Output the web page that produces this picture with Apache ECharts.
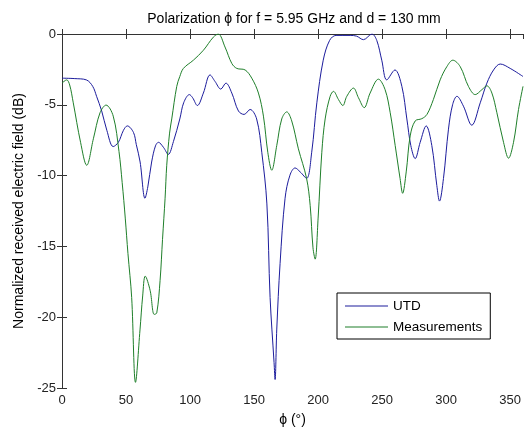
<!DOCTYPE html>
<html>
<head>
<meta charset="utf-8">
<script src="https://cdn.jsdelivr.net/npm/echarts@6/dist/echarts.min.js"></script>
<style>
  html, body { margin: 0; padding: 0; background: #fff; }
  #chart { width: 525px; height: 432px; }
</style>
</head>
<body>
<div id="chart"></div>
<script>
// Received field vs. azimuth angle phi (degrees), normalized, in dB
const utdPhi = [0, 10, 19, 24, 27, 31, 35, 40, 44, 48, 51, 55.8, 58, 61, 64.8, 67, 70, 73, 75.3, 79.2,
  83, 87, 92, 95, 99.5, 102, 105.7, 110.4, 115.6, 119.5, 124, 128, 132.6, 137.8, 142.2, 146.9, 152, 156, 160,
  162.5, 165.6, 166.4, 167.7, 170.3, 174.2, 178, 182, 186, 191, 195, 199, 204, 209, 214, 225, 230, 235.4,
  242, 245.8, 249.7, 253.6, 260, 265.4, 269.3, 272.4, 275.8, 279.7, 284.4, 288.8, 292.7, 294.8, 297.9,
  301.8, 305, 308.4, 313.5, 320, 326.6, 331.8, 337, 342.2, 350, 360];
const utdVal = [-3.12, -3.15, -3.24, -3.7, -4.4, -5.44, -6.8, -7.95, -7.65, -6.8, -6.49, -6.95, -7.8, -9.04,
  -11.6, -10.8, -9.04, -7.9, -7.65, -8.0, -8.5, -7.6, -6.0, -4.86, -4.28, -4.5, -5.05, -4.17, -2.89, -3.35,
  -3.89, -3.47, -4.17, -5.44, -5.68, -5.33, -6.0, -8.35, -12.0, -18.6, -23.2, -24.4, -20.9, -16.2, -11.6,
  -9.97, -9.46, -9.74, -10.2, -8.35, -4.86, -1.85, -0.45, -0.1, -0.1, -0.15, -0.4, 0, -0.45, -1.85, -3.24,
  -2.54, -3.7, -6.0, -7.88, -8.8, -7.65, -6.49, -7.88, -10.7, -11.8, -10.2, -6.72, -5.0, -4.4, -5.1, -6.44,
  -4.86, -3.47, -2.54, -2.12, -2.43, -3.0];

const measPhi = [0, 3.7, 6, 8.8, 14.5, 19.3, 24.5, 29.7, 34.4, 40, 44.5, 47, 49.4, 51.5, 54.4, 57.4, 60.9,
  63, 65, 68.8, 72, 74, 76.6, 78.5, 80.5, 81.8, 84, 85.7, 89.6, 92, 94.8, 102.6, 110.4, 118.2, 122, 127.3,
  132.6, 136.5, 143, 148.2, 153.4, 157.3, 160.7, 163.8, 167.7, 171.6, 175.5, 179.4, 184.6, 191, 193.8, 196,
  197.7, 200, 202.9, 205.5, 209.4, 212, 215.9, 219.3, 222.4, 227.6, 231.5, 236, 240.6, 247.1, 252.3, 256.3,
  260.2, 264, 266, 268.8, 271.9, 275.8, 281, 285, 290, 295.3, 300.5, 305.2, 311, 317.4, 322.7, 327.9, 331.8,
  335.7, 339.6, 344.8, 348.7, 352.6, 356.5, 360];
const measVal = [-3.47, -3.24, -3.6, -4.86, -7.65, -9.27, -7.4, -5.56, -5.02, -5.8, -8.3, -10.5, -13, -15.5,
  -18.6, -24.6, -20.9, -18.5, -17.1, -18.1, -19.8, -19.7, -17.4, -14.5, -11.6, -9.27, -7.0, -6.0, -3.7, -3.0,
  -2.43, -1.85, -1.15, -0.22, 0, -0.92, -2.08, -2.43, -2.54, -3.12, -4.17, -5.8, -8.35, -9.62, -7.88, -6.0,
  -5.5, -6.14, -8.11, -10.2, -12.1, -15.1, -15.9, -13, -8.35, -6.0, -4.4, -4.05, -4.63, -5.05, -4.4, -3.82,
  -4.5, -5.2, -4.17, -3.19, -3.93, -5.56, -7.88, -10.2, -11.25, -9.74, -7.2, -6.14, -5.98, -5.68, -4.63,
  -3.24, -2.31, -1.85, -2.31, -3.7, -4.28, -3.93, -3.66, -4.17, -5.56, -7.65, -8.77, -7.65, -5.33, -3.7];

const seriesNames = ['UTD', 'Measurements'];
const titleText = 'Polarization \u03D5 for f = 5.95 GHz and d = 130 mm';
const xName = '\u03D5 (\u00B0)';
const yName = 'Normalized received electric field (dB)';

const pairs = (xs, ys) => xs.map((x, i) => [x, ys[i]]);
const FONT = '"Liberation Sans", Arial, sans-serif';

const frameAxis = {
  min: 0, max: 360, interval: 50,
  axisLine: { show: true, lineStyle: { color: '#333', width: 1 } },
  axisTick: { show: true, inside: true, length: 5, lineStyle: { color: '#333' } },
  splitLine: { show: false }
};
const frameYAxis = {
  min: -25, max: 0, interval: 5,
  axisLine: { show: true, lineStyle: { color: '#333', width: 1 } },
  axisTick: { show: true, inside: true, length: 5, lineStyle: { color: '#333' } },
  splitLine: { show: false }
};

const chart = echarts.init(document.getElementById('chart'), null, { renderer: 'canvas' });
chart.setOption({
  animation: false,
  backgroundColor: '#fff',
  textStyle: { fontFamily: FONT },
  title: {
    text: titleText, left: 289, top: 7, textAlign: 'center',
    textStyle: { fontSize: 14, fontWeight: 'normal', color: '#000', fontFamily: FONT }
  },
  grid: { left: 62, right: 2, top: 34, bottom: 39 },
  legend: {
    data: seriesNames, orient: 'vertical', left: 337, top: 293,
    icon: 'rect', itemWidth: 43, itemHeight: 1,
    padding: [6, 8, 5, 8], itemGap: 7,
    borderColor: '#000', borderWidth: 1, backgroundColor: '#fff',
    textStyle: { fontSize: 13.5, color: '#000', fontFamily: FONT }
  },
  xAxis: [
    Object.assign({}, frameAxis, {
      type: 'value', position: 'bottom',
      name: xName, nameLocation: 'middle', nameGap: 25,
      nameTextStyle: { fontSize: 14, color: '#000', fontFamily: FONT },
      axisLabel: { fontSize: 13, color: '#222', margin: 6, fontFamily: FONT }
    }),
    Object.assign({}, frameAxis, { type: 'value', position: 'top', axisLabel: { show: false } })
  ],
  yAxis: [
    Object.assign({}, frameYAxis, {
      type: 'value', position: 'left',
      name: yName, nameLocation: 'middle', nameGap: 28, nameRotate: 90,
      nameTextStyle: { fontSize: 14, color: '#000', fontFamily: FONT },
      axisLabel: { fontSize: 13, color: '#222', margin: 6, fontFamily: FONT }
    }),
    Object.assign({}, frameYAxis, { type: 'value', position: 'right', axisLabel: { show: false } })
  ],
  series: [
    {
      name: seriesNames[0], type: 'line', data: pairs(utdPhi, utdVal),
      xAxisIndex: 0, yAxisIndex: 0, symbol: 'none', smooth: 0.35,
      lineStyle: { color: '#1c1c9c', width: 1 }, itemStyle: { color: '#1c1c9c' }
    },
    {
      name: seriesNames[1], type: 'line', data: pairs(measPhi, measVal),
      xAxisIndex: 0, yAxisIndex: 0, symbol: 'none', smooth: 0.35,
      lineStyle: { color: '#1f7f2a', width: 1 }, itemStyle: { color: '#1f7f2a' }
    }
  ]
});
</script>
</body>
</html>
